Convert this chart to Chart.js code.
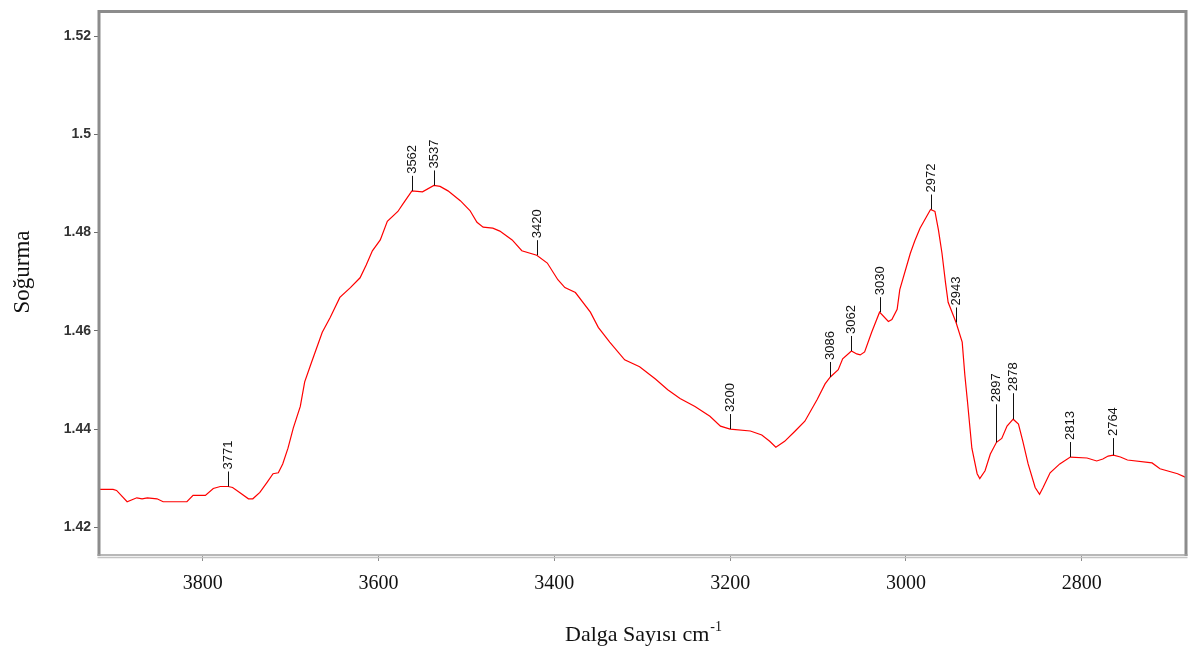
<!DOCTYPE html>
<html>
<head>
<meta charset="utf-8">
<script src="https://cdn.jsdelivr.net/npm/chart.js@4"></script>
<style>
  body { margin: 0; background: #fff; }
  #wrap { width: 1190px; height: 652px; }
</style>
</head>
<body>
<div id="wrap"><canvas id="irChart" width="1190" height="652"></canvas></div>
<script>
// spectrum (wavenumber cm-1 -> absorbance)
const wavenumbers = [
    3918, 3902, 3898, 3886, 3875, 3869, 3863, 3852, 3845, 3818, 3811, 3797, 3788, 3780, 3771,
    3766, 3758, 3748, 3743, 3735, 3727, 3720, 3714, 3709, 3703, 3697, 3689, 3684, 3676, 3664,
    3655, 3644, 3632, 3621, 3614, 3607, 3598, 3590, 3578, 3572, 3562, 3550, 3537, 3530, 3521,
    3507, 3496, 3488, 3481, 3470, 3462, 3448, 3437, 3420, 3408, 3396, 3388, 3376, 3359, 3350,
    3337, 3320, 3303, 3285, 3271, 3257, 3240, 3223, 3211, 3200, 3177, 3164, 3155, 3148, 3138,
    3126, 3115, 3101, 3092, 3086, 3077, 3072, 3062, 3056, 3052, 3047, 3039, 3030, 3020, 3016,
    3010, 3007, 2995, 2990, 2984, 2972, 2967, 2963, 2959, 2955, 2952, 2943, 2936, 2933, 2930,
    2925, 2919, 2916, 2910, 2904, 2897, 2891, 2885, 2878, 2872, 2867, 2861, 2853, 2848, 2844,
    2836, 2825, 2813, 2794, 2783, 2776, 2770, 2764, 2756, 2748, 2720, 2711, 2691, 2681
];
const absorbance = [
    1.4277, 1.4277, 1.4275, 1.4252, 1.4260, 1.4258, 1.4260, 1.4258, 1.4252, 1.4252, 1.4265, 1.4265, 1.4279, 1.4283, 1.4283,
    1.4281, 1.4271, 1.4258, 1.4258, 1.4271, 1.4291, 1.4309, 1.4311, 1.4329, 1.4361, 1.4402, 1.4446, 1.4496, 1.4537, 1.4597,
    1.4627, 1.4668, 1.4688, 1.4708, 1.4734, 1.4763, 1.4785, 1.4823, 1.4843, 1.4859, 1.4885, 1.4883, 1.4896, 1.4894, 1.4885,
    1.4865, 1.4845, 1.4821, 1.4811, 1.4809, 1.4803, 1.4785, 1.4763, 1.4754, 1.4738, 1.4704, 1.4688, 1.4678, 1.4638, 1.4607,
    1.4577, 1.4541, 1.4527, 1.4502, 1.4480, 1.4462, 1.4446, 1.4426, 1.4406, 1.4400, 1.4396, 1.4388, 1.4375, 1.4363, 1.4375,
    1.4396, 1.4416, 1.4460, 1.4492, 1.4506, 1.4521, 1.4543, 1.4559, 1.4553, 1.4551, 1.4557, 1.4597, 1.4638, 1.4619, 1.4623,
    1.4644, 1.4684, 1.4758, 1.4783, 1.4809, 1.4847, 1.4843, 1.4805, 1.4758, 1.4698, 1.4658, 1.4617, 1.4577, 1.4510, 1.4456,
    1.4361, 1.4309, 1.4299, 1.4315, 1.4349, 1.4373, 1.4381, 1.4406, 1.4420, 1.4410, 1.4375, 1.4329, 1.4281, 1.4267, 1.4281,
    1.4311, 1.4329, 1.4343, 1.4341, 1.4335, 1.4339, 1.4345, 1.4347, 1.4343, 1.4337, 1.4331, 1.4319, 1.4309, 1.4301
];

const peakLabels = [3771, 3562, 3537, 3420, 3200, 3086, 3062, 3030, 2972, 2943, 2897, 2878, 2813, 2764];
const xTicks = [3800, 3600, 3400, 3200, 3000, 2800];
const yTicks = [1.42, 1.44, 1.46, 1.48, 1.5, 1.52];

const xTitle = 'Dalga Sayısı cm';
const xTitleSup = '-1';
const yTitle = 'Soğurma';

function absAt(w) {
    for (let i = 0; i < wavenumbers.length - 1; i++) {
        const a = wavenumbers[i], b = wavenumbers[i + 1];
        if (w <= a && w >= b) {
            const t = (a - w) / (a - b);
            return absorbance[i] + t * (absorbance[i + 1] - absorbance[i]);
        }
    }
    return absorbance[absorbance.length - 1];
}

// frame round the plot area
const framePlugin = {
    id: 'frame',
    afterDraw(chart) {
        const { ctx, chartArea: a } = chart;
        ctx.save();
        ctx.strokeStyle = '#8c8c8c';
        ctx.lineWidth = 3;
        ctx.beginPath();
        ctx.moveTo(a.left, a.bottom);
        ctx.lineTo(a.left, a.top);
        ctx.lineTo(a.right, a.top);
        ctx.lineTo(a.right, a.bottom);
        ctx.stroke();
        ctx.lineWidth = 1.5;
        ctx.strokeStyle = '#a0a0a0';
        ctx.beginPath();
        ctx.moveTo(a.left - 1.5, a.bottom - 1);
        ctx.lineTo(a.right + 1.5, a.bottom - 1);
        ctx.stroke();
        ctx.strokeStyle = '#c4c4c4';
        ctx.beginPath();
        ctx.moveTo(a.left - 1.5, a.bottom + 1.5);
        ctx.lineTo(a.right + 1.5, a.bottom + 1.5);
        ctx.stroke();
        ctx.restore();
    }
};

// peak markers: short leader line + vertical number
const peakPlugin = {
    id: 'peaks',
    afterDatasetsDraw(chart, args, opts) {
        const { ctx, scales: { x, y } } = chart;
        ctx.save();
        ctx.strokeStyle = '#111';
        ctx.fillStyle = '#111';
        ctx.lineWidth = 1;
        ctx.font = '13px "Liberation Sans", Arial, sans-serif';
        peakLabels.forEach(w => {
            const px = Math.round(x.getPixelForValue(w)) + 0.5;
            const py = y.getPixelForValue(absAt(w));
            const len = opts.leaders[w] || opts.leader;
            ctx.beginPath();
            ctx.moveTo(px, py);
            ctx.lineTo(px, py - len);
            ctx.stroke();
            ctx.save();
            ctx.translate(px, py - len - 2);
            ctx.rotate(-Math.PI / 2);
            ctx.textAlign = 'left';
            ctx.textBaseline = 'middle';
            ctx.fillText(String(w), 0, 0);
            ctx.restore();
        });
        ctx.restore();
    }
};

// axis titles (x one has a superscript)
const titlePlugin = {
    id: 'axisTitles',
    afterDraw(chart) {
        const { ctx } = chart;
        ctx.save();
        ctx.fillStyle = '#111';
        ctx.font = '22px "Liberation Serif", "Times New Roman", serif';
        ctx.textBaseline = 'alphabetic';
        const w1 = ctx.measureText(xTitle).width;
        ctx.font = '14px "Liberation Serif", "Times New Roman", serif';
        const w2 = ctx.measureText(xTitleSup).width;
        const start = 643 - (w1 + w2) / 2;
        ctx.font = '22px "Liberation Serif", "Times New Roman", serif';
        ctx.textAlign = 'left';
        ctx.fillText(xTitle, start, 641);
        ctx.font = '14px "Liberation Serif", "Times New Roman", serif';
        ctx.fillText(xTitleSup, start + w1 + 1, 631);

        ctx.font = '23px "Liberation Serif", "Times New Roman", serif';
        ctx.translate(29, 272);
        ctx.rotate(-Math.PI / 2);
        ctx.textAlign = 'center';
        ctx.fillText(yTitle, 0, 0);
        ctx.restore();
    }
};

new Chart(document.getElementById('irChart'), {
    type: 'line',
    data: {
        datasets: [{
            data: wavenumbers.map((w, i) => ({ x: w, y: absorbance[i] })),
            borderColor: '#ff0000',
            borderWidth: 1.2,
            pointRadius: 0,
            tension: 0,
            fill: false,
        }]
    },
    options: {
        responsive: false,
        animation: false,
        layout: { padding: { top: 6, right: 4, left: 0, bottom: 0 } },
        plugins: {
            legend: { display: false },
            tooltip: { enabled: false },
            peaks: { leader: 15, leaders: { 2897: 38, 2878: 26, 2764: 17 } },
        },
        scales: {
            x: {
                type: 'linear',
                reverse: true,
                min: 2681.4,
                max: 3918,
                afterBuildTicks: s => { s.ticks = xTicks.map(v => ({ value: v })); },
                afterFit: s => { s.height = 96; },
                grid: { drawOnChartArea: false, drawTicks: true, tickLength: 5, color: '#8c8c8c' },
                border: { display: false },
                ticks: {
                    padding: 11,
                    color: '#111',
                    maxRotation: 0,
                    font: { family: '"Liberation Serif", "Times New Roman", serif', size: 20 },
                    callback: v => String(v),
                },
            },
            y: {
                min: 1.41415,
                max: 1.52504,
                afterBuildTicks: s => { s.ticks = yTicks.map(v => ({ value: v })); },
                afterFit: s => { s.width = 99; },
                grid: { drawOnChartArea: false, drawTicks: true, tickLength: 5, color: '#6c6c6c' },
                border: { display: false },
                ticks: {
                    padding: 3,
                    color: '#333',
                    font: { family: '"Liberation Sans", Arial, sans-serif', size: 14, weight: 'bold' },
                    callback: v => String(+v.toFixed(2)),
                },
            },
        },
    },
    plugins: [framePlugin, peakPlugin, titlePlugin],
});
</script>
</body>
</html>
